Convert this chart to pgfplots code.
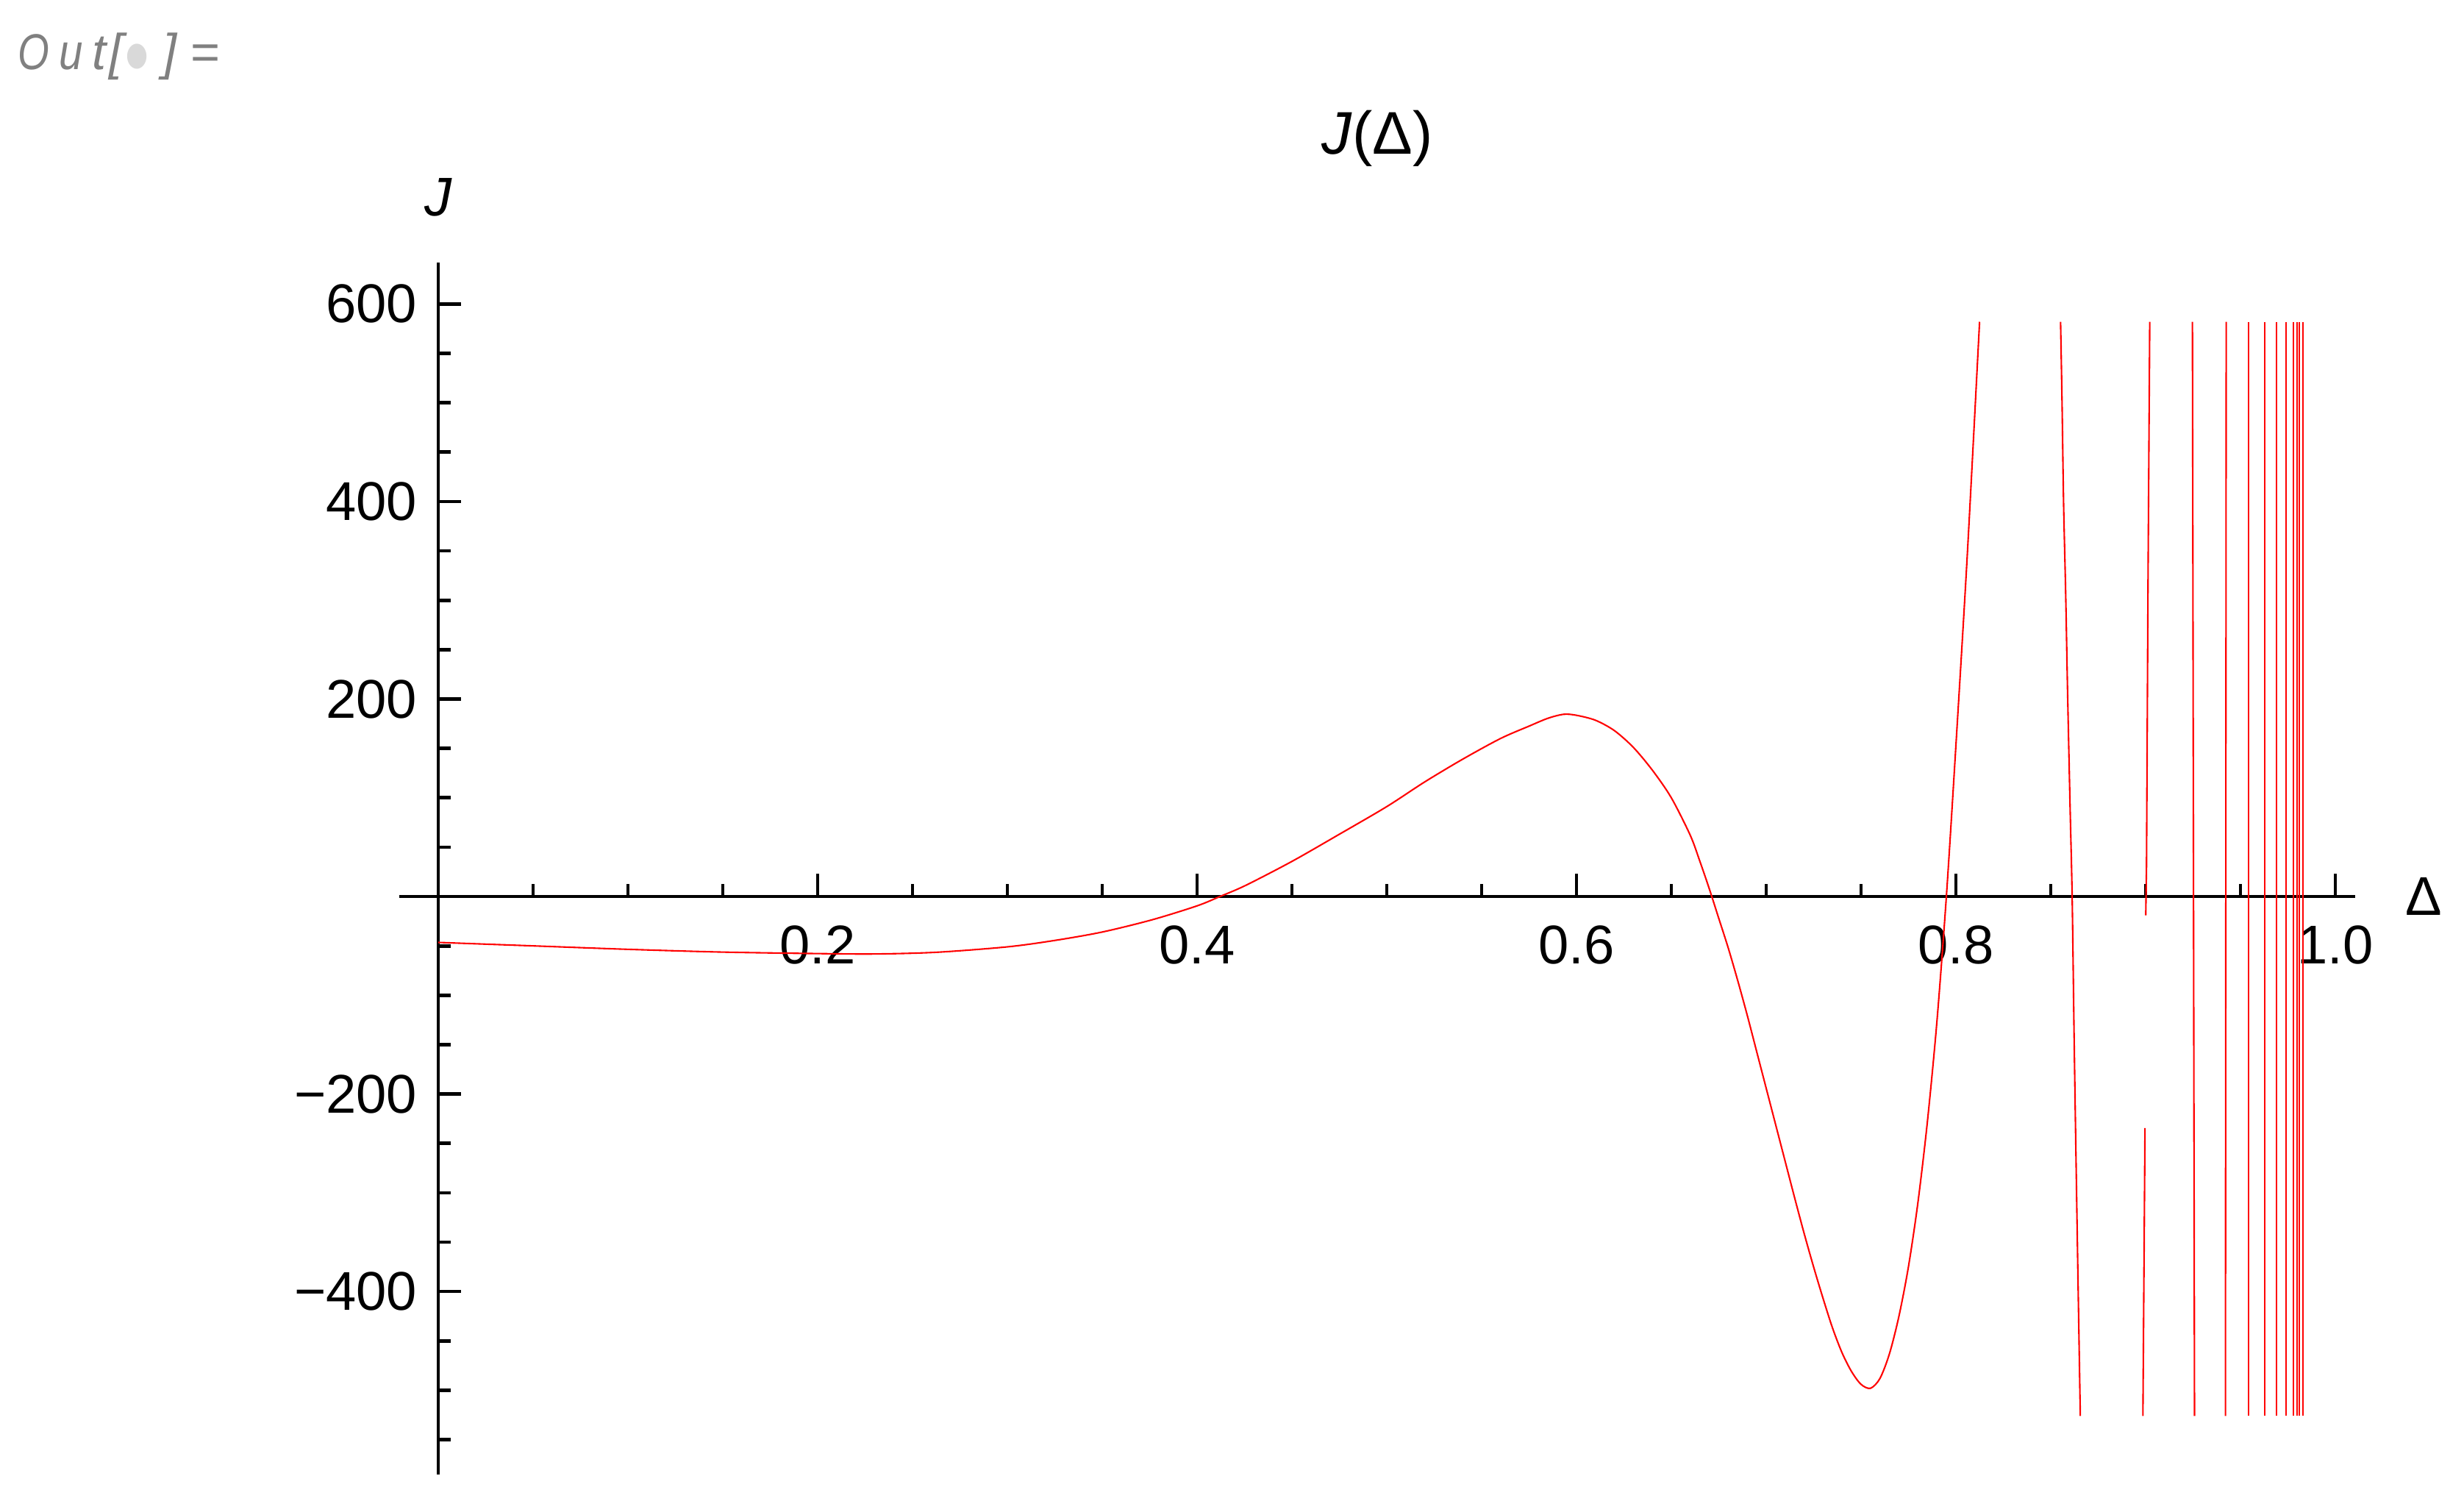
\documentclass[border=0pt]{standalone}
\usepackage{fontspec}
\setmainfont{Liberation Sans}
\newfontfamily\dejavu{DejaVu Sans}
\usepackage{graphicx}
\usepackage{pgfplots}
\pgfplotsset{compat=1.18}
\definecolor{mred}{rgb}{1,0,0}
\begin{document}
\begin{tikzpicture}
\useasboundingbox (-77.57pt,-5.07pt) rectangle (401.14pt,286.36pt);
\begin{axis}[
  at={(0pt,0pt)}, anchor=south west,
  scale only axis, width=380pt, height=235.36pt,
  xmin=-0.0205, xmax=1.0105, ymin=-585, ymax=642,
  axis lines=middle,
  axis line style={-, line width=0.67pt, black},
  clip=false,
  xtick={0.2,0.4,0.6,0.8,1.0},
  xticklabels={0.2,0.4,0.6,0.8,1.0},
  minor xtick={0.05,0.1,0.15,0.25,0.3,0.35,0.45,0.5,0.55,0.65,0.7,0.75,0.85,0.9,0.95},
  ytick={-400,-200,200,400,600},
  yticklabels={−400,−200,200,400,600},
  minor ytick={-550,-500,-450,-350,-300,-250,-150,-100,-50,50,100,150,250,300,350,450,500,550},
  tick align=inside,
  major tick length=4.4pt, minor tick length=2.5pt,
  every tick/.style={black, line width=0.67pt},
  ticklabel style={font=\fontsize{10.6}{12}\selectfont, inner sep=0pt},
  xticklabel style={anchor=north, yshift=-5.5pt},
  yticklabel style={anchor=east, xshift=-3.9pt},
]
% main continuous branch
\addplot[mred, line width=0.3pt, smooth] coordinates {
(0,-46.5) (0.05,-50) (0.1,-53.5) (0.15,-56.3) (0.2,-57.8) (0.23,-58.2)
(0.2625,-56.5) (0.3,-51) (0.325,-44.5) (0.35,-36)
(0.3763,-23.6) (0.4,-9.5) (0.4121,0) (0.4256,11.2) (0.45,35.5) (0.475,63)
(0.5,91) (0.52,116) (0.54,139) (0.56,160) (0.575,172.5) (0.585,180.5)
(0.5933,184.5) (0.60,183.5) (0.61,178.5) (0.62,168) (0.63,151) (0.64,128)
(0.65,100) (0.66,62) (0.665,36) (0.67,8) (0.675,-22) (0.68,-52) (0.685,-85)
(0.69,-120) (0.695,-157) (0.70,-194) (0.705,-231) (0.71,-268) (0.715,-305)
(0.72,-341) (0.725,-375) (0.73,-407) (0.735,-437) (0.74,-462) (0.745,-481)
(0.75,-494) (0.755,-498) (0.76,-488) (0.765,-463) (0.77,-425) (0.775,-375)
(0.78,-310) (0.785,-228) (0.79,-127) (0.795,0) (0.80,152) (0.806,345) (0.8125,582)
};
% branch near 0.86
\addplot[mred, line width=0.3pt, smooth] coordinates {
(0.8552,582) (0.8560,497) (0.8568,397) (0.8579,306) (0.8589,206) (0.8602,92)
(0.8613,0) (0.8623,-137) (0.8631,-237) (0.8642,-367) (0.8650,-458) (0.8656,-526)
};
% branch near 0.90 (with gap)
\addplot[mred, line width=0.3pt] coordinates {
(0.9022,582) (0.9013,321) (0.9005,31) (0.9001,-19)
};
\addplot[mred, line width=0.3pt] coordinates {
(0.8997,-234.5) (0.8986,-526)
};
% near-vertical branches
\addplot[mred, line width=0.3pt] coordinates {(0.9247,582) (0.9258,-526)};
\addplot[mred, line width=0.3pt] coordinates {(0.9425,582) (0.9421,-526)};
\addplot[mred, line width=0.3pt] coordinates {(0.9543,582) (0.9543,-526)};
\addplot[mred, line width=0.3pt] coordinates {(0.9628,582) (0.9628,-526)};
\addplot[mred, line width=0.3pt] coordinates {(0.9689,582) (0.9689,-526)};
\addplot[mred, line width=0.3pt] coordinates {(0.9739,582) (0.9739,-526)};
\addplot[mred, line width=0.3pt] coordinates {(0.9778,582) (0.9778,-526)};
\addplot[mred, line width=0.3pt] coordinates {(0.9797,582) (0.9797,-526)};
\addplot[mred, line width=0.3pt] coordinates {(0.9810,582) (0.9810,-526)};
\addplot[mred, line width=0.3pt] coordinates {(0.9829,582) (0.9829,-526)};

\node[anchor=base, inner sep=0pt, font=\fontsize{11.7}{14}\selectfont, yshift=21.1pt] at (rel axis cs:0.5,1) {\textit{J}(Δ)};
\node[anchor=base, inner sep=0pt, font=\fontsize{10.6}{12}\selectfont, yshift=9.1pt] at (axis cs:0,642) {\textit{J}};
\node[anchor=center, inner sep=0pt, font=\fontsize{10.6}{12}\selectfont, xshift=13.3pt] at (axis cs:1.0105,0) {Δ};
\end{axis}
% notebook output label "Out[•]="
\begin{scope}[every node/.style={anchor=base west, inner sep=0pt, text=black!50, font=\fontsize{9.8}{11}\selectfont\itshape}]
\node at (-74.3pt,272.9pt) {\scalebox{0.8}[1]{O}};
\node at (-66.3pt,272.9pt) {\scalebox{0.85}[1]{u}};
\node at (-59.9pt,272.9pt) {t};
\node at (-56.5pt,272.9pt) {[};
\node at (-46.1pt,272.9pt) {]};
\node at (-40.7pt,272.9pt) {\upshape =};
\node[text=black!15, font=\dejavu\fontsize{5.8}{6}\selectfont] at (-53.3pt,273.7pt) {\scalebox{0.85}[1.1]{●}};
\end{scope}
\end{tikzpicture}
\end{document}
